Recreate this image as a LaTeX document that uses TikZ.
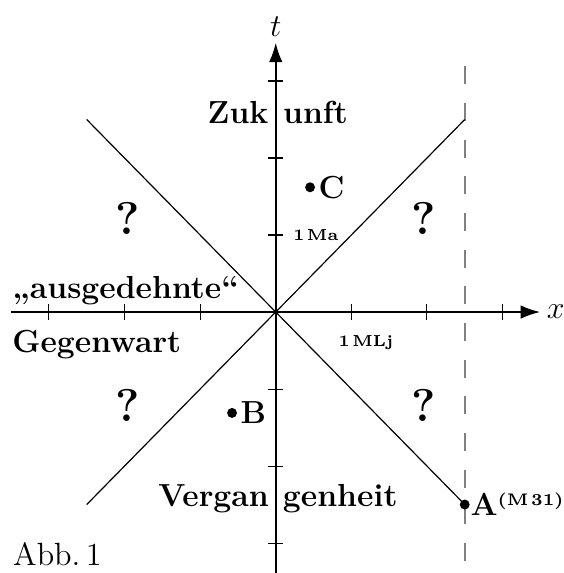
\documentclass[tikz,border=0pt]{standalone}
\usepackage{amsmath}
\usetikzlibrary{arrows.meta}
\begin{document}
\begin{tikzpicture}[x=1cm, y=1.0185cm,
  axis/.style={line width=0.85pt, -{Latex[length=2.6mm,width=1.8mm]}},
  cone/.style={line width=0.45pt},
  lbl/.style={font=\fontsize{12}{14}\selectfont\bfseries, inner sep=0pt},
  unitlbl/.style={font=\fontsize{6}{7}\selectfont\bfseries, inner sep=0pt},
  qmark/.style={font=\LARGE\bfseries, inner sep=0pt}]
  \useasboundingbox (-3.647,-3.389) rectangle (3.800,4.052);
  \coordinate (O) at (0,0);
  \coordinate (UL) at (-2.5, 2.5);
  \coordinate (UR) at (2.5, 2.5);
  \coordinate (LL) at (-2.5, -2.5);
  \coordinate (A) at (2.5, -2.5);
  \coordinate (B) at (-0.578, -1.31);
  \coordinate (C) at (0.454, 1.62);
  \coordinate (DT) at (2.5, 3.19);
  \coordinate (DB) at (2.5, -3.39);
  % worldline of A (dashed)
  \draw[gray, line width=0.6pt, dash pattern=on 6.8pt off 7pt] (DT) -- (DB);
  % light cone
  \draw[cone] (UL) -- (O) -- (A);
  \draw[cone] (LL) -- (O) -- (UR);
  % axes and ticks
  \draw[axis] (-3.5,0) -- (3.5,0) node[right, inner sep=2pt, font=\large] {$x$};
  \draw[axis] (0,-3.39) -- (0,3.5) node[above, inner sep=2pt, font=\large] {$t$};
  \foreach \k in {-3,-2,-1,1,2,3} {
    \draw[line width=0.4pt] (\k,-0.1) -- (\k,0.1);
    \draw[line width=0.4pt] (-0.1,\k) -- (0.1,\k);
  }
  \node[unitlbl, anchor=west] (ma) at (0.225, 1.0) {1\,Ma};
  \node[unitlbl, anchor=west] (mlj) at (0.824, -0.40) {1\,MLj};
  % regions
  \node[lbl, anchor=base east] (zuk) at (-0.09, 2.45) {Zuk};
  \node[lbl, anchor=base west] (unft) at (0.09, 2.45) {unft};
  \node[lbl, anchor=base east] (vergan) at (-0.085, -2.53) {Vergan};
  \node[lbl, anchor=base west] (genheit) at (0.089, -2.53) {genheit};
  \node[lbl, anchor=base west] (ausg) at (-3.49, 0.182) {„ausgedehnte“};
  \node[lbl, anchor=base west] (gegw) at (-3.49, -0.52) {Gegenwart};
  \foreach \px/\py in {-1.96/1.21, 1.96/1.21, -1.96/-1.21, 1.96/-1.21}
    \node[qmark] at (\px,\py) {?};
  % events
  \fill (A) circle (0.065) node[lbl, right=2pt] {A\raisebox{0.7ex}{\fontsize{6.3}{7}\selectfont(M\,31)}};
  \fill (B) circle (0.065) node[lbl, right=3pt] {B};
  \fill (C) circle (0.065) node[lbl, right=3pt] {C};
  \node[font=\fontsize{12.1}{14}\selectfont, inner sep=0pt, anchor=base west] (abb) at (-3.48, -3.286) {Abb.\,1};
\end{tikzpicture}
\end{document}
